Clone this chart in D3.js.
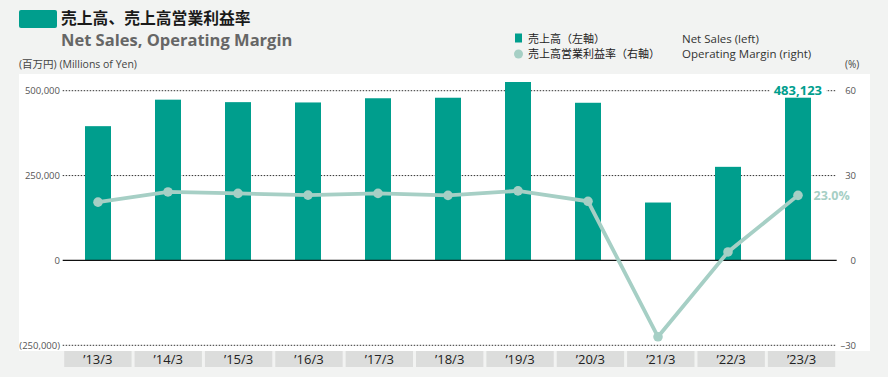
<!DOCTYPE html>
<html>
<head>
<meta charset="utf-8">
<style>
  body { margin: 0; background: #f2f3f2; }
  svg { display: block; font-family: "Open Sans", "Noto Sans", "Noto Sans CJK JP", sans-serif; }
  .jp { font-family: "Noto Sans CJK JP", sans-serif; }
</style>
</head>
<body>
<svg id="chart" width="888" height="377"></svg>
<script src="https://d3js.org/d3.v7.min.js"></script>
<script>
// data (millions of yen / percent)
var years = ["’13/3", "’14/3", "’15/3", "’16/3", "’17/3", "’18/3", "’19/3", "’20/3", "’21/3", "’22/3", "’23/3"];
var netSales = [395527, 473573, 466292, 465353, 477748, 479280, 525622, 464450, 170581, 275728, 483123];
var opMargin = [20.6, 24.2, 23.7, 23.1, 23.7, 23.0, 24.6, 20.9, -27.0, 3.0, 23.0];
var leftTicks = [-250000, 0, 250000, 500000];
var rightTicks = [-30, 0, 30, 60];

var teal = "#009e8d", light = "#a6cfc5";
var svg = d3.select("#chart");

// category strip and the marks use slightly different spacing in the original
var x = d3.scaleBand().domain(years).range([62.7, 836.7]);
var xm = d3.scaleBand().domain(years).range([63, 833]);
var yL = d3.scaleLinear().domain([-250000, 500000]).range([345.3, 90.7]);
var yR = d3.scaleLinear().domain([-30, 60]).range([345.3, 90.7]);

// title block
svg.append("rect").attr("x", 19).attr("y", 10).attr("width", 38).attr("height", 18)
    .attr("rx", 2).attr("fill", teal);
svg.append("text").attr("class", "jp").attr("x", 61).attr("y", 23.8)
    .attr("font-size", 15.8).attr("font-weight", "bold").attr("fill", "#1a1a1a")
    .text("売上高、売上高営業利益率");
svg.append("text").attr("x", 61).attr("y", 46)
    .attr("font-size", 16.5).attr("font-weight", "bold").attr("fill", "#666")
    .text("Net Sales, Operating Margin");

svg.append("text").attr("x", 19).attr("y", 68).attr("font-size", 10.5).attr("fill", "#444")
    .text("(百万円) (Millions of Yen)");
svg.append("text").attr("x", 845).attr("y", 68).attr("font-size", 10).attr("fill", "#444")
    .text("(%)");

// legend
var lg = svg.append("g");
lg.append("rect").attr("x", 515).attr("y", 33.5).attr("width", 7).attr("height", 9).attr("fill", teal);
lg.append("circle").attr("cx", 518.5).attr("cy", 54).attr("r", 4.5).attr("fill", light);
lg.append("text").attr("class", "jp").attr("x", 528).attr("y", 43).attr("font-size", 11).attr("fill", "#222")
    .text("売上高（左軸）");
lg.append("text").attr("class", "jp").attr("x", 528).attr("y", 58).attr("font-size", 11).attr("fill", "#222")
    .text("売上高営業利益率（右軸）");
lg.append("text").attr("x", 682).attr("y", 43).attr("font-size", 11.5).attr("fill", "#333")
    .text("Net Sales (left)");
lg.append("text").attr("x", 682).attr("y", 58).attr("font-size", 11.5).attr("fill", "#333")
    .text("Operating Margin (right)");

// white panel
svg.append("rect").attr("x", 19).attr("y", 74).attr("width", 851).attr("height", 277).attr("fill", "#fff");

// gridlines
svg.append("g").selectAll("line").data(leftTicks.filter(function(d) { return d !== 0; }))
    .join("line")
    .attr("x1", x.range()[0]).attr("x2", x.range()[1])
    .attr("y1", function(d) { return yL(d); }).attr("y2", function(d) { return yL(d); })
    .attr("stroke", "#333").attr("stroke-width", 1).attr("stroke-dasharray", "1.5,1.5");

// left axis labels
svg.append("g").selectAll("text").data(leftTicks).join("text")
    .attr("x", 60).attr("y", function(d) { return yL(d); }).attr("dy", "0.35em")
    .attr("text-anchor", "end").attr("font-size", 9.5).attr("fill", "#555")
    .text(function(d) { return d < 0 ? "(" + d3.format(",")(-d) + ")" : d3.format(",")(d); });

// right axis labels
svg.append("g").selectAll("text").data(rightTicks).join("text")
    .attr("x", 856).attr("y", function(d) { return yR(d); }).attr("dy", "0.35em")
    .attr("text-anchor", "end").attr("font-size", 9.5).attr("fill", "#555")
    .text(function(d) { return d < 0 ? "–" + (-d) : d; });

// bars
var bw = 26;
var cx = function(i) { return xm(years[i]) + xm.bandwidth() / 2; };
svg.append("g").selectAll("rect").data(netSales).join("rect")
    .attr("x", function(d, i) { return cx(i) - bw / 2; })
    .attr("width", bw)
    .attr("y", function(d) { return yL(d); })
    .attr("height", function(d) { return yL(0) - yL(d); })
    .attr("fill", teal);

// zero line
svg.append("line").attr("x1", x.range()[0]).attr("x2", x.range()[1])
    .attr("y1", yL(0)).attr("y2", yL(0)).attr("stroke", "#111").attr("stroke-width", 1.2);

// margin line
svg.append("path").datum(opMargin)
    .attr("d", d3.line().x(function(d, i) { return cx(i); }).y(function(d) { return yR(d); }))
    .attr("fill", "none").attr("stroke", light).attr("stroke-width", 3.8);
svg.append("g").selectAll("circle").data(opMargin).join("circle")
    .attr("cx", function(d, i) { return cx(i); }).attr("cy", function(d) { return yR(d); })
    .attr("r", 4.8).attr("fill", light);

// value labels
var last = netSales.length - 1;
var lbl = svg.append("g");
lbl.append("rect").attr("x", 770).attr("y", yL(500000) - 7).attr("width", 56).attr("height", 14).attr("fill", "#fff");
lbl.append("text").attr("x", 822).attr("y", yL(500000)).attr("dy", "0.35em").attr("text-anchor", "end")
    .attr("font-size", 13).attr("font-weight", "bold").attr("fill", teal)
    .text(d3.format(",")(netSales[last]));
lbl.append("text").attr("x", cx(last) + 15.5).attr("y", yR(opMargin[last])).attr("dy", "0.35em")
    .attr("font-size", 12.5).attr("font-weight", "bold").attr("fill", light)
    .text(opMargin[last].toFixed(1) + "%");

// category boxes
var cat = svg.append("g").selectAll("g").data(years).join("g");
cat.append("rect")
    .attr("x", function(d) { return x(d) + 1.5; }).attr("y", 351)
    .attr("width", x.bandwidth() - 3).attr("height", 16).attr("fill", "#dcdddc");
cat.append("text")
    .attr("x", function(d) { return x(d) + x.bandwidth() / 2; }).attr("y", 359.5).attr("dy", "0.35em")
    .attr("text-anchor", "middle").attr("font-size", 13).attr("fill", "#222")
    .text(function(d) { return d; });
</script>
</body>
</html>
